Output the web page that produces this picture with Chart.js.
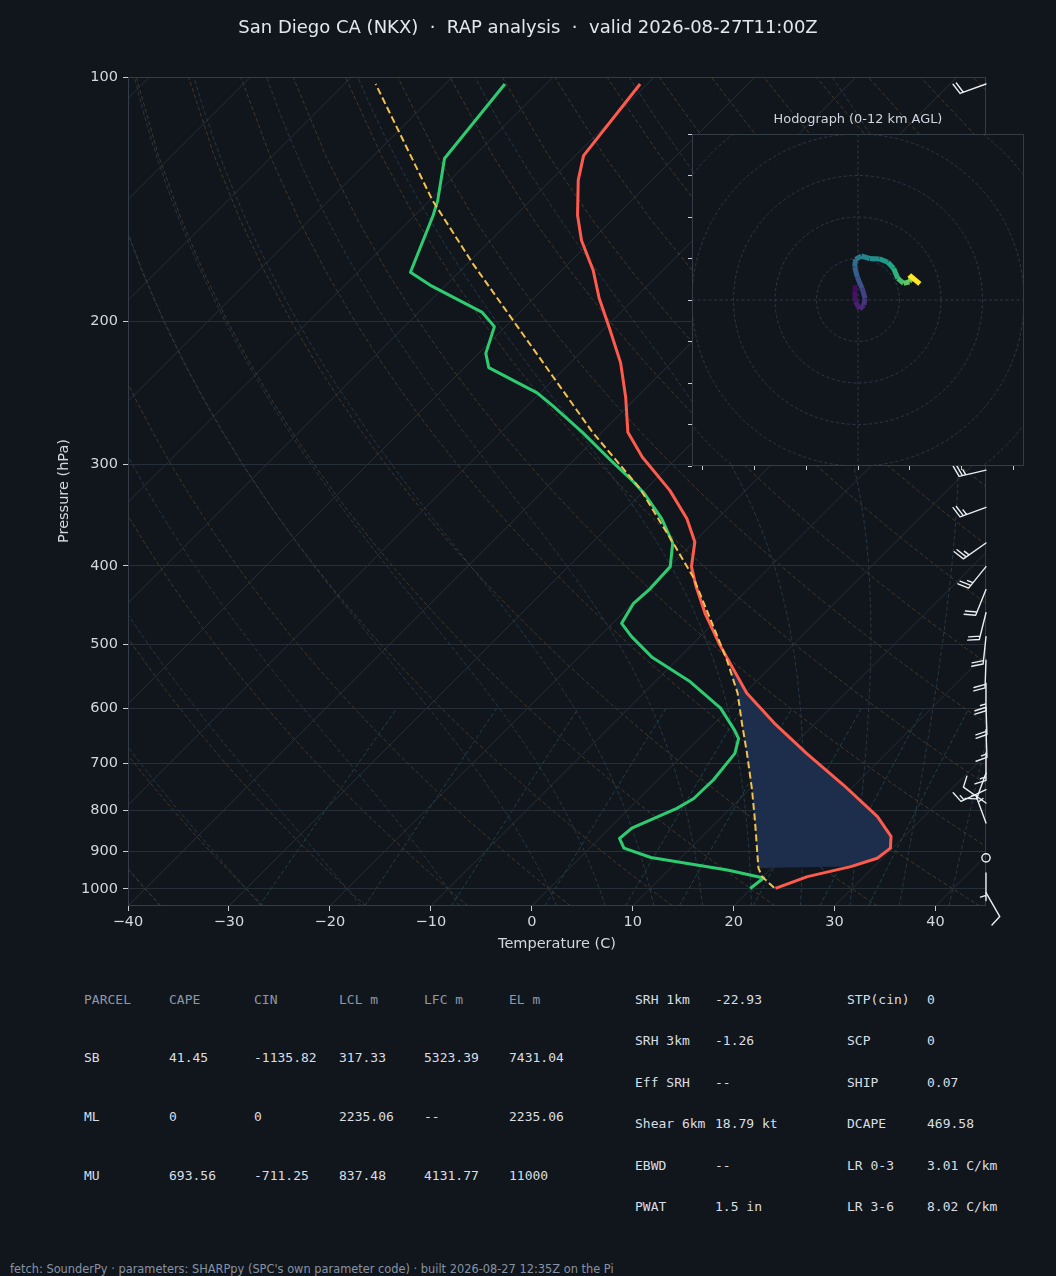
<!DOCTYPE html>
<html>
<head>
<meta charset="utf-8">
<script src="https://cdn.jsdelivr.net/npm/chart.js@4.4.1/dist/chart.umd.min.js"></script>
<style>
  html, body { margin: 0; padding: 0; background: #11161c; }
  body { width: 1056px; height: 1276px; position: relative; overflow: hidden;
         font-family: 'DejaVu Sans', sans-serif; color: #d2d8df; }
  #skew { position: absolute; left: 0; top: 0; z-index: 1; }
  #hodo { position: absolute; left: 652px; top: 100px; z-index: 2; }
  .t { position: absolute; white-space: pre; z-index: 3; }
  .mono { font-family: 'DejaVu Sans Mono', monospace; font-size: 13px; line-height: 16px; }
</style>
</head>
<body>
<canvas id="skew" width="1056" height="960"></canvas>
<canvas id="hodo" width="388" height="380"></canvas>

<div class="t" style="left:0;width:1056px;top:15px;line-height:24px;text-align:center;font-size:18px;color:#e4e8ed;">San Diego CA (NKX)  ·  RAP analysis  ·  valid 2026-08-27T11:00Z</div>
<div class="t" style="left:652px;width:412px;top:111px;line-height:16px;text-align:center;font-size:12.9px;color:#cfd5dc;">Hodograph (0-12 km AGL)</div>
<div class="t" style="left:557px;top:943px;transform:translate(-50%,-50%);font-size:14.5px;">Temperature (C)</div>
<div class="t" style="left:63px;top:491px;transform:translate(-50%,-50%) rotate(-90deg);font-size:14.5px;">Pressure (hPa)</div>
<div id="tables"></div>
<div class="t" style="left:10px;top:1262px;line-height:14px;font-size:11.4px;color:#8793a3;">fetch: SounderPy · parameters: SHARPpy (SPC's own parameter code) · built 2026-08-27 12:35Z on the Pi</div>

<script>
// ---- sounding ----
const tempPressure = [102, 125, 134, 148, 159, 173, 187, 205, 225, 248, 274, 294, 323, 350, 374, 401, 424, 458, 501, 574, 625, 681, 745, 815, 862, 891, 917, 939, 966, 999];
const tempC = [-70.7, -69.2, -67.3, -63.9, -61.0, -56.9, -53.6, -49.3, -45.0, -41.1, -37.4, -33.5, -27.5, -23.0, -19.9, -17.8, -15.4, -11.8, -7.2, 0.2, 5.9, 12.1, 18.9, 25.4, 28.7, 29.8, 29.5, 27.7, 24.4, 22.4];

const dewPressure = [102, 126, 142, 148, 174, 181, 195, 203, 219, 228, 245, 254, 274, 298, 315, 326, 350, 375, 401, 427, 445, 471, 489, 518, 556, 599, 638, 653, 681, 734, 774, 796, 842, 867, 891, 915, 948, 970, 999];
const dewC = [-84.1, -82.7, -79.2, -78.2, -74.8, -71.3, -63.7, -61.1, -59.3, -57.6, -50.3, -47.5, -41.9, -36.0, -32.0, -29.7, -25.5, -22.0, -19.9, -19.7, -19.9, -19.1, -16.8, -12.8, -6.5, -0.9, 2.7, 3.9, 5.0, 5.5, 5.4, 4.7, 2.2, 2.0, 3.4, 7.0, 15.8, 20.2, 19.9];

const parcelPressure = [997, 966, 943, 823, 755, 681, 625, 574, 523, 498, 413, 372, 321, 274, 200, 170, 142, 102];
const parcelC = [22.2, 19.9, 18.7, 13.6, 10.3, 6.2, 2.7, -0.7, -5.0, -7.4, -16.6, -22.4, -30.7, -40.9, -59.7, -69.4, -79.7, -96.9];

// CIN layer between parcel and environment (hPa)
const cinBottom = 945;
const cinTop = 520;

// ---- wind barbs at the right edge ----
const barbPressure = [102, 130, 160, 190, 220, 250, 280, 305, 339, 375, 401, 428, 457, 489, 523, 558, 597, 637, 680, 720, 755, 784, 830, 916, 956, 1011];
const barbDirection = [250, 245, 245, 250, 250, 255, 255, 257, 250, 235, 219, 202, 194, 186, 182, 180, 178, 178, 180, 200, 245, 305, 340, 0, 180, 150];
const barbSpeedKt = [20, 20, 25, 25, 25, 25, 25, 25, 25, 25, 25, 20, 20, 20, 20, 25, 20, 15, 15, 15, 15, 10, 5, 0, 5, 10];

// ---- hodograph ----
const hodoU = [-0.6, -0.8, -0.6, 0.4, 1.4, 1.7, 1.0, -0.2, -0.8, -0.6, 0.8, 2.8, 5.2, 7.2, 8.6, 9.6, 11.0, 12.4, 12.9, 12.4, 14.9];
const hodoV = [3.6, 2.0, -0.4, -2.2, -1.2, 0.4, 2.8, 5.6, 8.0, 9.8, 10.6, 10.0, 9.9, 9.1, 7.6, 5.2, 4.0, 4.4, 5.2, 6.0, 3.9];
const hodoHeightKm = [0.0, 0.3, 0.6, 1.0, 1.4, 1.8, 2.3, 3.0, 3.6, 4.2, 4.8, 5.3, 5.8, 6.4, 7.0, 7.7, 8.4, 9.0, 9.6, 10.5, 12.0];
const hodoRings = [10, 20, 30, 40, 50];
const hodoXTicks = [-37.5, -25, -12.5, 0, 12.5, 25, 37.5];
const hodoYTicks = [-40, -30, -20, -10, 0, 10, 20, 30, 40];

// ---- axes and background lines ----
const pressureTicks = [100, 200, 300, 400, 500, 600, 700, 800, 900, 1000];
const tempTicks = [-40, -30, -20, -10, 0, 10, 20, 30, 40];
const isothermTemps = [-130, -120, -110, -100, -90, -80, -70, -60, -50, -40, -30, -20, -10, 0, 10, 20, 30, 40];
const dryAdiabatTemps = [-50, -40, -30, -20, -10, 0, 10, 20, 30, 40, 50, 60, 70, 80, 90, 100, 110, 120, 130, 140, 150, 160, 170, 180, 190];
const moistAdiabatTemps = [-50, -40, -30, -20, -10, 0, 5, 10, 15, 20, 25, 30, 35, 40, 45];
const mixingRatios = [0.0004, 0.001, 0.002, 0.004, 0.007, 0.01, 0.016, 0.024, 0.032];

// ---- table ----
const parcelHeader = ['PARCEL', 'CAPE', 'CIN', 'LCL m', 'LFC m', 'EL m'];
const parcelRows = [
  ['SB', '41.45', '-1135.82', '317.33', '5323.39', '7431.04'],
  ['ML', '0', '0', '2235.06', '--', '2235.06'],
  ['MU', '693.56', '-711.25', '837.48', '4131.77', '11000']
];
const indexRows = [
  ['SRH 1km', '-22.93', 'STP(cin)', '0'],
  ['SRH 3km', '-1.26', 'SCP', '0'],
  ['Eff SRH', '--', 'SHIP', '0.07'],
  ['Shear 6km', '18.79 kt', 'DCAPE', '469.58'],
  ['EBWD', '--', 'LR 0-3', '3.01 C/km'],
  ['PWAT', '1.5 in', 'LR 3-6', '8.02 C/km']
];

// plot box is 858 x 829 px, x spans 85 C, y spans log10(1050/100) decades -> 45 degree isotherms
const P_BOTTOM = 1050, P_TOP = 100;
const K_SKEW = (829 / Math.log10(P_BOTTOM / P_TOP)) / (858 / 85);
const BG = '#11161c';

function skewX(t, p) { return t + K_SKEW * Math.log10(P_BOTTOM / p); }
function toPts(ps, ts) { return ps.map((p, i) => ({ x: skewX(ts[i], p), y: p })); }

// thermodynamic helpers for the background lines
const Rd = 287.04749, Cpd = 1004.6662, Lv = 2.50084e6, EPS = 0.622;
function satVap(tK) { return 6.112 * Math.exp(17.67 * (tK - 273.15) / (tK - 29.65)); }
function moistLapse(p, tK) {
  const es = satVap(tK);
  const rs = EPS * es / (p - es);
  return (Rd * tK + Lv * rs) / (Cpd + Lv * Lv * rs * EPS / (Rd * tK * tK)) / p;
}
function integrateMoist(t0C) {
  const out = [];
  const step = (p, t, h) => {
    const k1 = moistLapse(p, t);
    const k2 = moistLapse(p + h / 2, t + k1 * h / 2);
    const k3 = moistLapse(p + h / 2, t + k2 * h / 2);
    const k4 = moistLapse(p + h, t + k3 * h);
    return t + h * (k1 + 2 * k2 + 2 * k3 + k4) / 6;
  };
  let t = t0C + 273.15;
  for (let p = 1000; p < P_BOTTOM; p += 10) t = step(p, t, 10);
  out.push({ x: skewX(t - 273.15, P_BOTTOM), y: P_BOTTOM });
  t = t0C + 273.15;
  out.push({ x: skewX(t0C, 1000), y: 1000 });
  for (let p = 1000; p > P_TOP; p -= 10) {
    t = step(p, t, -10);
    out.push({ x: skewX(t - 273.15, p - 10), y: p - 10 });
  }
  return out;
}

const bgLevels = [];
for (let p = P_BOTTOM; p >= P_TOP; p -= 25) bgLevels.push(p);
const mixLevels = [1050, 1000, 950, 900, 850, 800, 750, 700, 650, 600];

function lineSet(data, color, dash, order) {
  return { data, borderColor: color, borderWidth: 1, borderDash: dash, pointRadius: 0, fill: false, order };
}

const datasets = [];
// main profiles (lower order = drawn on top)
datasets.push({ data: toPts(parcelPressure, parcelC), borderColor: '#f2c14e', borderWidth: 2,
  borderDash: [7, 3.5], pointRadius: 0, fill: false, order: 0 });
datasets.push({ data: toPts(tempPressure, tempC), borderColor: '#ff5b4d', borderWidth: 3,
  pointRadius: 0, fill: false, borderJoinStyle: 'round', order: 1 });
datasets.push({ data: toPts(dewPressure, dewC), borderColor: '#2ecc71', borderWidth: 3,
  pointRadius: 0, fill: false, borderJoinStyle: 'round', order: 2 });

// CIN shading: parcel going up, environment coming back down
const cinShape = [];
parcelPressure.forEach((p, i) => { if (p <= cinBottom && p >= cinTop) cinShape.push({ x: skewX(parcelC[i], p), y: p }); });
tempPressure.forEach((p, i) => { if (p <= cinBottom && p > cinTop) cinShape.push({ x: skewX(tempC[i], p), y: p }); });
datasets.push({ data: cinShape, borderWidth: 0, backgroundColor: '#1c2e4b', fill: 'shape', pointRadius: 0, order: 5 });

isothermTemps.forEach(t => datasets.push(lineSet([{ x: skewX(t, P_BOTTOM), y: P_BOTTOM }, { x: skewX(t, P_TOP), y: P_TOP }], '#262e38', [], 20)));
dryAdiabatTemps.forEach(t0 => {
  const th = t0 + 273.15;
  datasets.push(lineSet(bgLevels.map(p => ({ x: skewX(th * Math.pow(p / 1000, 0.2857) - 273.15, p), y: p })), '#433829', [4, 2.5], 12));
});
moistAdiabatTemps.forEach(t0 => datasets.push(lineSet(integrateMoist(t0), '#263847', [4, 2.5], 11)));
mixingRatios.forEach(w => {
  datasets.push(lineSet(mixLevels.map(p => {
    const e = w * p / (EPS + w);
    const l = Math.log(e / 6.112);
    return { x: skewX(243.5 * l / (17.67 - l), p), y: p };
  }), '#21404a', [4, 2.5], 10));
});

// wind barb drawing in the usual matplotlib proportions
function drawBarb(ctx, x0, y0, dir, spd) {
  const u = 27.6 / 7;
  const L = 7 * u, sp = 0.875 * u, fh = 2.8 * u, fw = 1.75 * u;
  if (spd < 2.5) {
    ctx.beginPath(); ctx.arc(x0, y0, 1.05 * u, 0, Math.PI * 2); ctx.stroke();
    return;
  }
  const r = Math.round(spd / 5) * 5;
  const flags = Math.floor(r / 50);
  const full = Math.floor((r - flags * 50) / 10);
  const half = (r % 10) >= 5;
  const a = dir * Math.PI / 180;
  const sx = Math.sin(a), sy = -Math.cos(a);
  const px = -sy, py = sx;
  const at = d => [x0 + sx * d, y0 + sy * d];
  ctx.beginPath();
  ctx.moveTo(x0, y0);
  ctx.lineTo(...at(L));
  let off = L;
  for (let i = 0; i < flags; i++) {
    const [bx, by] = at(off);
    ctx.moveTo(bx, by);
    ctx.lineTo(bx + px * fh - sx * fw / 2, by + py * fh - sy * fw / 2);
    ctx.lineTo(...at(off - fw));
    off -= fw + sp;
  }
  for (let i = 0; i < full; i++) {
    const [bx, by] = at(off);
    ctx.moveTo(bx, by);
    ctx.lineTo(bx + px * fh + sx * fw / 2, by + py * fh + sy * fw / 2);
    off -= sp;
  }
  if (half) {
    if (off === L) off -= 1.5 * sp;
    const [bx, by] = at(off);
    ctx.moveTo(bx, by);
    ctx.lineTo(bx + px * fh / 2 + sx * fw / 4, by + py * fh / 2 + sy * fw / 4);
  }
  ctx.stroke();
}

const skewFrame = {
  id: 'skewFrame',
  afterDraw(chart) {
    const { ctx, chartArea: a, scales } = chart;
    ctx.save();
    ctx.strokeStyle = '#333d4a';
    ctx.lineWidth = 1;
    ctx.strokeRect(a.left + 0.5, a.top + 0.5, a.right - a.left - 1, a.bottom - a.top - 1);
    ctx.strokeStyle = '#e8edf2';
    ctx.lineWidth = 1.4;
    ctx.lineCap = 'round';
    barbPressure.forEach((p, i) => {
      drawBarb(ctx, a.right, scales.y.getPixelForValue(p), barbDirection[i], barbSpeedKt[i]);
    });
    ctx.restore();
  }
};

Chart.defaults.font.family = "'DejaVu Sans', sans-serif";
Chart.defaults.color = '#d2d8df';

new Chart(document.getElementById('skew'), {
  type: 'line',
  data: { datasets },
  options: {
    responsive: false,
    animation: false,
    events: [],
    layout: { padding: { left: 0, top: 77, right: 70, bottom: 0 } },
    plugins: { legend: { display: false }, tooltip: { enabled: false } },
    scales: {
      x: {
        type: 'linear', min: -40, max: 45,
        afterBuildTicks: s => { s.ticks = tempTicks.map(v => ({ value: v })); },
        afterFit: s => { s.height = 54; },
        ticks: { font: { size: 14.5 }, padding: 3, maxRotation: 0,
                 callback: v => (v < 0 ? '\u2212' + Math.abs(v) : String(v)) },
        grid: { drawOnChartArea: false, drawTicks: true, tickLength: 5, tickColor: '#c8ced6' },
        border: { display: false }
      },
      y: {
        type: 'logarithmic', reverse: true, min: P_TOP, max: P_BOTTOM,
        afterBuildTicks: s => { s.ticks = pressureTicks.map(v => ({ value: v })); },
        afterFit: s => { s.width = 128; },
        ticks: { font: { size: 14.5 }, padding: 5, callback: v => String(v) },
        grid: { color: '#262e38', tickLength: 5, tickColor: '#c8ced6' },
        border: { display: false }
      }
    }
  },
  plugins: [skewFrame]
});

// ---- hodograph ----
const viridisStops = ['#440154', '#482475', '#414487', '#355f8d', '#2a788e', '#21918c', '#22a884', '#44bf70', '#7ad151', '#bddf26', '#fde725'];
function viridis(f) {
  f = Math.max(0, Math.min(1, f)) * (viridisStops.length - 1);
  const i = Math.min(Math.floor(f), viridisStops.length - 2);
  const t = f - i;
  const c0 = viridisStops[i], c1 = viridisStops[i + 1];
  const ch = (c, k) => parseInt(c.substr(1 + 2 * k, 2), 16);
  const mix = k => Math.round(ch(c0, k) + (ch(c1, k) - ch(c0, k)) * t);
  return `rgb(${mix(0)},${mix(1)},${mix(2)})`;
}

const hodoFrame = {
  id: 'hodoFrame',
  beforeDraw(chart) {
    const { ctx, chartArea: a } = chart;
    ctx.save();
    ctx.fillStyle = BG;
    ctx.fillRect(a.left, a.top, a.right - a.left, a.bottom - a.top);
    ctx.restore();
  },
  beforeDatasetsDraw(chart) {
    const { ctx, chartArea: a, scales: { x, y } } = chart;
    ctx.save();
    ctx.beginPath();
    ctx.rect(a.left, a.top, a.right - a.left, a.bottom - a.top);
    ctx.clip();
    ctx.strokeStyle = '#2d3947';
    ctx.lineWidth = 1;
    ctx.setLineDash([3, 2.5]);
    const cx = x.getPixelForValue(0), cy = y.getPixelForValue(0);
    hodoRings.forEach(r => {
      ctx.beginPath();
      ctx.arc(cx, cy, x.getPixelForValue(r) - cx, 0, Math.PI * 2);
      ctx.stroke();
    });
    ctx.beginPath();
    ctx.moveTo(a.left, cy); ctx.lineTo(a.right, cy);
    ctx.moveTo(cx, a.top); ctx.lineTo(cx, a.bottom);
    ctx.stroke();
    ctx.restore();
  },
  afterDraw(chart) {
    const { ctx, chartArea: a } = chart;
    ctx.save();
    ctx.strokeStyle = '#333d4a';
    ctx.lineWidth = 1;
    ctx.strokeRect(a.left + 0.5, a.top + 0.5, a.right - a.left - 1, a.bottom - a.top - 1);
    ctx.restore();
  }
};

new Chart(document.getElementById('hodo'), {
  type: 'line',
  data: {
    datasets: [{
      data: hodoU.map((u, i) => ({ x: u, y: hodoV[i] })),
      borderWidth: 5,
      borderCapStyle: 'butt',
      pointRadius: 0,
      fill: false,
      segment: { borderColor: c => viridis(hodoHeightKm[c.p1DataIndex] / 12) }
    }]
  },
  options: {
    responsive: false,
    animation: false,
    events: [],
    layout: { padding: { left: 34, top: 34, right: 16, bottom: 8 } },
    plugins: { legend: { display: false }, tooltip: { enabled: false } },
    scales: {
      x: {
        type: 'linear', min: -40, max: 40,
        afterBuildTicks: s => { s.ticks = hodoXTicks.map(v => ({ value: v })); },
        afterFit: s => { s.height = 6; },
        ticks: { display: false },
        grid: { drawOnChartArea: false, drawTicks: true, tickLength: 4, tickColor: '#c8ced6' },
        border: { display: false }
      },
      y: {
        type: 'linear', min: -40, max: 40,
        afterBuildTicks: s => { s.ticks = hodoYTicks.map(v => ({ value: v })); },
        afterFit: s => { s.width = 6; },
        ticks: { display: false },
        grid: { drawOnChartArea: false, drawTicks: true, tickLength: 4, tickColor: '#c8ced6' },
        border: { display: false }
      }
    }
  },
  plugins: [hodoFrame]
});

// ---- parameter tables ----
const tables = document.getElementById('tables');
function addText(txt, left, cy, color) {
  const d = document.createElement('div');
  d.className = 't mono';
  d.style.left = left + 'px';
  d.style.top = (cy - 8) + 'px';
  d.style.color = color;
  d.textContent = txt;
  tables.appendChild(d);
}
const leftCols = [84, 169, 254, 339, 424, 509];
const leftRowsY = [1000, 1058, 1117, 1176];
parcelHeader.forEach((h, j) => addText(h, leftCols[j], leftRowsY[0], '#8c99ab'));
parcelRows.forEach((row, i) => row.forEach((v, j) => addText(v, leftCols[j], leftRowsY[i + 1], '#d9dee5')));
const rightCols = [635, 715, 847, 927];
indexRows.forEach((row, i) => row.forEach((v, j) => addText(v, rightCols[j], 1000 + i * 41.4, '#d9dee5')));
</script>
</body>
</html>
